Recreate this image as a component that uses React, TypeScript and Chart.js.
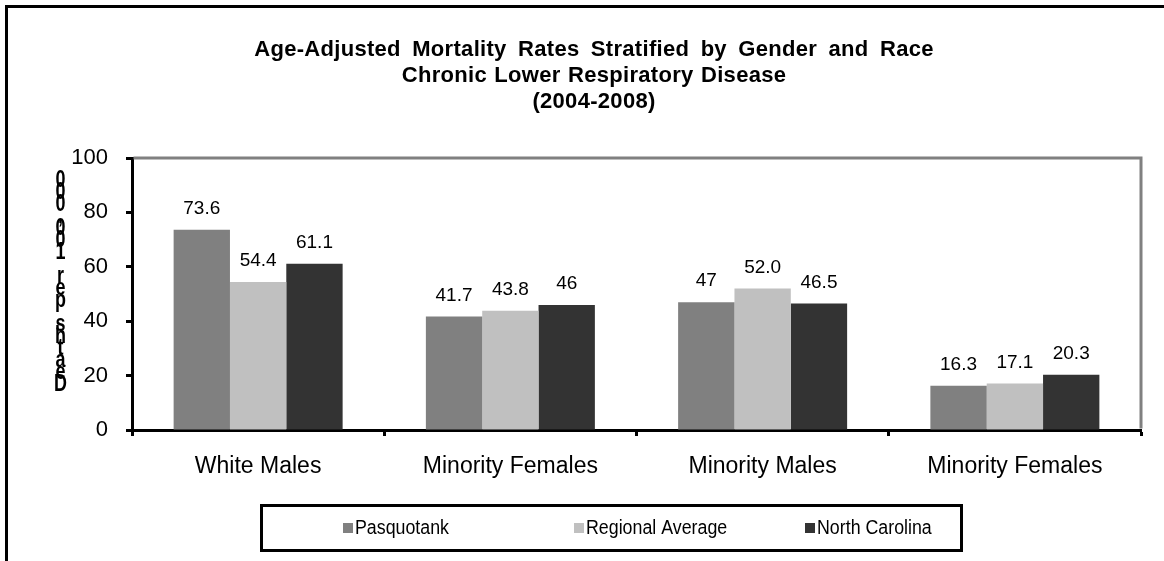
import React, { useEffect, useRef } from 'react';
import { Chart, registerables } from 'chart.js';

Chart.register(...registerables);

// ---------- data ----------
const categories = ['White Males', 'Minority Females', 'Minority Males', 'Minority Females'];
const seriesNames = ['Pasquotank', 'Regional Average', 'North Carolina'];
const pasquotank = [73.6, 41.7, 47, 16.3];
const regional = [54.4, 43.8, 52.0, 17.1];
const northCarolina = [61.1, 46, 46.5, 20.3];
const pasquotankLabels = ['73.6', '41.7', '47', '16.3'];
const regionalLabels = ['54.4', '43.8', '52.0', '17.1'];
const northCarolinaLabels = ['61.1', '46', '46.5', '20.3'];
const seriesColors = ['#808080', '#C0C0C0', '#333333'];
const yMin = 0;
const yMax = 100;
const yStep = 20;
const titleLines = [
  'Age-Adjusted Mortality Rates Stratified by Gender and Race',
  'Chronic Lower Respiratory Disease',
  '(2004-2008)',
];
const yAxisTitle = 'Deaths per 100,000';

const FONT = 'Arial, Helvetica, sans-serif';
const valueLabels = [pasquotankLabels, regionalLabels, northCarolinaLabels];

const decorPlugin = {
  id: 'decor',
  beforeDraw(chart: any) {
    const ctx = chart.ctx;
    ctx.save();
    // outer frame (top + left visible)
    ctx.strokeStyle = '#000';
    ctx.lineWidth = 3;
    ctx.beginPath();
    ctx.moveTo(6.5, chart.height);
    ctx.lineTo(6.5, 6.5);
    ctx.lineTo(chart.width, 6.5);
    ctx.stroke();

    // title
    ctx.fillStyle = '#000';
    ctx.font = `bold 22px ${FONT}`;
    ctx.textAlign = 'center';
    ctx.textBaseline = 'middle';
    const c: any = ctx;
    titleLines.forEach((line, i) => {
      c.letterSpacing = '0.3px';
      c.wordSpacing = i === 0 ? '5px' : '1px';
      ctx.fillText(line, 594, 50 + i * 26);
    });
    c.letterSpacing = '0px';
    c.wordSpacing = '0px';
    ctx.restore();
  },
  afterDatasetsDraw(chart: any) {
    const ctx = chart.ctx;
    const { left, right, top, bottom } = chart.chartArea;
    ctx.save();
    // gray plot frame (top + right)
    ctx.strokeStyle = '#808080';
    ctx.lineWidth = 3;
    ctx.beginPath();
    ctx.moveTo(left + 1.5, top);
    ctx.lineTo(right, top);
    ctx.lineTo(right, bottom - 1.5);
    ctx.stroke();

    // value labels
    ctx.fillStyle = '#000';
    ctx.font = `19px ${FONT}`;
    ctx.textAlign = 'center';
    ctx.textBaseline = 'middle';
    chart.data.datasets.forEach((ds: any, di: number) => {
      const meta = chart.getDatasetMeta(di);
      meta.data.forEach((bar: any, i: number) => {
        ctx.fillText(valueLabels[di][i], bar.x, bar.y - 21);
      });
    });

    // stacked y-axis title, characters bottom-up
    ctx.font = `bold 23px ${FONT}`;
    const chars = Array.from(yAxisTitle);
    const baseY = 385;
    const step = 12;
    chars.forEach((ch, i) => {
      ctx.save();
      ctx.translate(60.5, baseY - i * step);
      ctx.scale(0.78, 1);
      ctx.fillText(ch, 0, 0);
      ctx.restore();
    });

    // legend
    const legLeft = 261.5;
    const legTop = 505.5;
    const legW = 700;
    const legH = 45;
    ctx.strokeStyle = '#000';
    ctx.lineWidth = 3;
    ctx.strokeRect(legLeft, legTop, legW, legH);
    const firstBox = 343;
    const slot = 231;
    const cy = 528;
    ctx.textAlign = 'left';
    ctx.textBaseline = 'middle';
    ctx.font = `20px ${FONT}`;
    chart.data.datasets.forEach((ds: any, di: number) => {
      const x = firstBox + di * slot;
      ctx.fillStyle = ds.backgroundColor;
      ctx.fillRect(x, cy - 5, 10, 10);
      ctx.fillStyle = '#000';
      ctx.save();
      ctx.translate(x + 12, cy);
      ctx.scale(0.89, 1);
      ctx.fillText(ds.label, 0, 0);
      ctx.restore();
    });
    ctx.restore();
  },
};

export default function App() {
  const canvasRef = useRef<HTMLCanvasElement | null>(null);

  useEffect(() => {
    if (!canvasRef.current) return;
    const datasetValues = [pasquotank, regional, northCarolina];
    const chart = new Chart(canvasRef.current, {
      type: 'bar',
      data: {
        labels: categories,
        datasets: seriesNames.map((name, i) => ({
          label: name,
          data: datasetValues[i],
          backgroundColor: seriesColors[i],
          borderWidth: 0,
          barPercentage: 1,
          categoryPercentage: 0.67,
        })),
      },
      options: {
        animation: false,
        responsive: false,
        maintainAspectRatio: false,
        devicePixelRatio: 1,
        layout: { padding: { left: 45, right: 23, top: 158, bottom: 71 } },
        plugins: {
          legend: { display: false },
          tooltip: { enabled: false },
          title: { display: false },
        },
        scales: {
          x: {
            afterFit(scale: any) {
              scale.height = 60;
            },
            grid: {
              display: true,
              offset: true,
              drawOnChartArea: false,
              drawTicks: true,
              tickLength: 6,
              tickWidth: 3,
              tickColor: '#000',
            },
            border: { display: true, color: '#000', width: 3 },
            ticks: {
              color: '#000',
              font: { family: FONT, size: 23 },
              padding: 17,
              maxRotation: 0,
              autoSkip: false,
            },
          },
          y: {
            min: yMin,
            max: yMax,
            afterFit(scale: any) {
              scale.width = 87;
            },
            grid: {
              display: true,
              drawOnChartArea: false,
              drawTicks: true,
              tickLength: 6,
              tickWidth: 3,
              tickColor: '#000',
            },
            border: { display: true, color: '#000', width: 3 },
            ticks: {
              stepSize: yStep,
              color: '#000',
              font: { family: FONT, size: 22 },
              padding: 18,
            },
          },
        },
      },
      plugins: [decorPlugin],
    } as any);
    return () => chart.destroy();
  }, []);

  return (
    <div style={{ position: 'fixed', left: 0, top: 0, width: 1164, height: 561, background: '#fff' }}>
      <canvas ref={canvasRef} width={1164} height={561} style={{ display: 'block', width: 1164, height: 561 }} />
    </div>
  );
}
